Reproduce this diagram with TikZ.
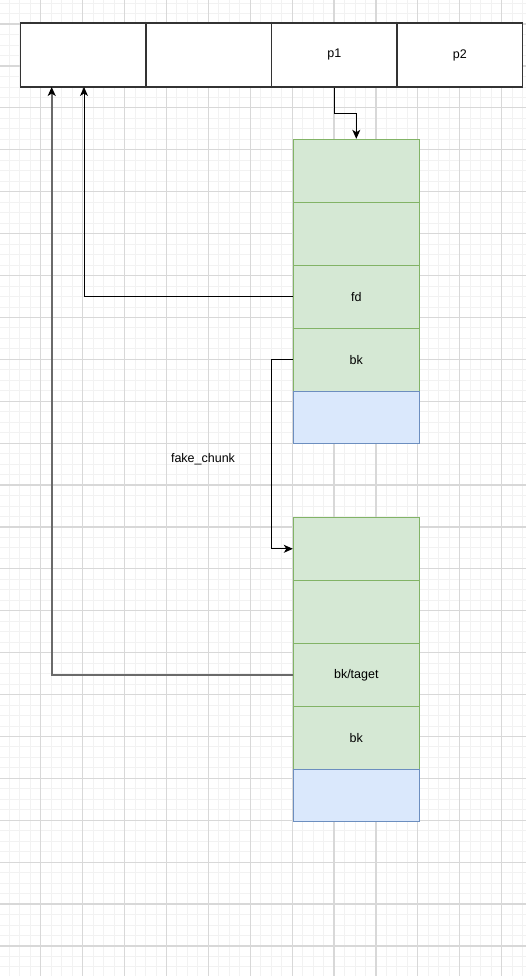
\documentclass[tikz,border=0pt]{standalone}
\usepackage{fontspec}
\setmainfont{Liberation Sans}
\usetikzlibrary{arrows.meta}
\definecolor{gmin}{HTML}{F2F2F2}
\definecolor{gmaj}{HTML}{D8D8D8}
\definecolor{gfill}{HTML}{D5E8D4}
\definecolor{gline}{HTML}{82B366}
\definecolor{bfill}{HTML}{DAE8FC}
\definecolor{bline}{HTML}{6C8EBF}
\definecolor{topline}{HTML}{333333}
\definecolor{conngray}{HTML}{6A6A6A}
\tikzset{
  cellbox/.style={draw=topline, line width=1.5pt, fill=white, minimum width=125.5pt, minimum height=64pt, inner sep=0pt, font=\fontsize{12.5}{15}\selectfont},
  greenrow/.style={draw=gline, fill=gfill, line width=1pt, minimum width=126pt, minimum height=63pt, inner sep=0pt, font=\fontsize{12.5}{15}\selectfont},
  bluerow/.style={draw=bline, fill=bfill, line width=1pt, minimum width=126pt, minimum height=52pt, inner sep=0pt},
  conn/.style={draw=black, line width=1pt, -{Stealth[length=9pt,width=8pt,inset=2.5pt]}},
  conngr/.style={draw=conngray, line width=1.8pt, -{Stealth[length=9pt,width=8pt,inset=2.5pt,color=black]}},
  lbl/.style={font=\fontsize{12.5}{15}\selectfont, inner sep=0pt}
}
\begin{document}
\begin{tikzpicture}[x=1pt,y=-1pt]
\useasboundingbox (0,0) rectangle (526,976);
\fill[white] (0,0) rectangle (526,976);
% grid
\begin{scope}
\clip (0,0) rectangle (526,976);
\foreach \k in {-4,...,48} {
  \draw[gmin, line width=0.8pt] ({40.7+10.475*\k},0) -- ({40.7+10.475*\k},976);
}
\foreach \k in {-20,...,80} {
  \draw[gmin, line width=0.8pt] (0,{191.7+10.475*\k}) -- (526,{191.7+10.475*\k});
}
\foreach \k in {-1,...,12} {
  \draw[gmaj, line width=1.2pt] ({40.7+41.9*\k},0) -- ({40.7+41.9*\k},976);
}
\foreach \k in {-5,...,20} {
  \draw[gmaj, line width=1.2pt] (0,{191.7+41.9*\k}) -- (526,{191.7+41.9*\k});
}
\end{scope}
% top array
\node[cellbox] (c1) at (83.25,55) {};
\node[cellbox] (c2) at (208.75,55) {};
\node[cellbox] (c3) at (334.25,55) {\raisebox{-1.5pt}{p1}};
\node[cellbox] (c4) at (459.75,55) {\raisebox{-1.5pt}{p2}};
% chunk 1
\node[greenrow] (a1) at (356.3,170.8) {};
\node[greenrow] (a2) at (356.3,233.8) {};
\node[greenrow] (a3) at (356.3,296.8) {fd};
\node[greenrow] (a4) at (356.3,359.8) {bk};
\node[bluerow] (a5) at (356.3,417.3) {};
% chunk 2
\node[greenrow] (b1) at (356.3,548.8) {};
\node[greenrow] (b2) at (356.3,611.8) {};
\node[greenrow] (b3) at (356.3,674.8) {bk/taget};
\node[greenrow] (b4) at (356.3,737.8) {bk};
\node[bluerow] (b5) at (356.3,795.3) {};
% label
\node[lbl] (fk) at (203,459) {fake\_chunk};
% anchor points on the top array
\coordinate (t1) at (84,87);
\coordinate (t2) at (51.7,87);
% connectors
\draw[conn] (c3.south) -- ++(0,26) -| (a1.north);
\draw[conn] (a3.west) -| (t1);
\draw[conn] (a4.west) -- ++(-21,0) |- (b1.west);
\draw[conngr] (b3.west) -| (t2);
\end{tikzpicture}
\end{document}
